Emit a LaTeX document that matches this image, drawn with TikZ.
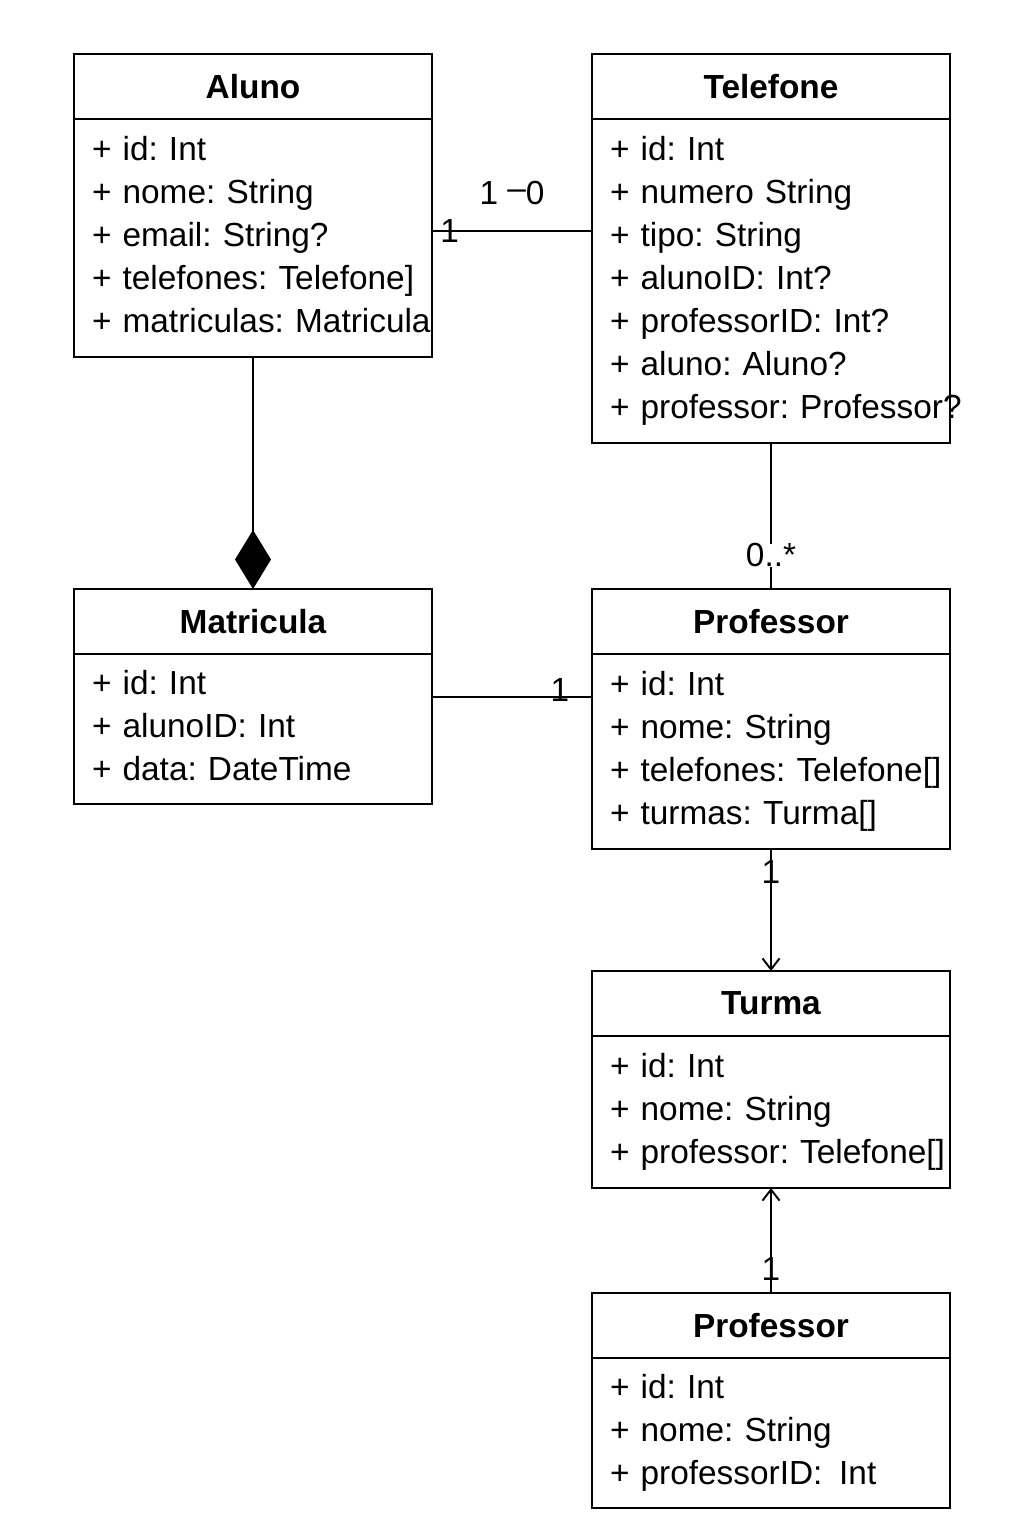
\documentclass[tikz,border=0pt]{standalone}
\usepackage{fontspec}
\setmainfont{Liberation Sans}
\usetikzlibrary{positioning, arrows.meta}
\newcommand{\umlfont}{\fontsize{19}{24.4}\selectfont}
\frenchspacing
\tikzset{
  every node/.style={text=black, font=\umlfont, outer sep=0pt},
  classname/.style={draw=black, minimum width=7.16cm, minimum height=1.3cm, inner sep=0pt, font=\umlfont\bfseries},
  classbody/.style={draw=black, minimum width=7.16cm, text width=6.44cm, inner xsep=0.36cm, inner ysep=0pt, align=left},
  mult/.style={draw=none, fill=none, inner sep=0pt}
}

\begin{document}
\begin{tikzpicture}[line width=1.1pt]
  \useasboundingbox (0,0) rectangle (20.48,-30.72);
  % Nodes
  \node (aluno) [classname] at (5.06,-1.73) {Aluno};
  \node (aluno-attr) [classbody, below=0pt of aluno, minimum height=4.76cm] {\begin{tabular}{@{}l@{}}
    + id: Int \\ + nome: String \\ + email: String? \\ + telefones: Telefone] \\ + matriculas: Matricula
  \end{tabular}};
  \node (telefone) [classname, right=3.2cm of aluno] {Telefone};
  \node (telefone-attr) [classbody, below=0pt of telefone, minimum height=6.48cm] {\begin{tabular}{@{}l@{}}
    + id: Int \\ + numero String \\ + tipo: String \\ + alunoID: Int? \\ + professorID: Int? \\ + aluno: Aluno? \\ + professor: Professor?
  \end{tabular}};
  \node (matricula) [classname, below=4.64cm of aluno-attr] {Matricula};
  \node (matricula-attr) [classbody, below=0pt of matricula, minimum height=3.0cm] {\begin{tabular}{@{}l@{}}
    + id: Int \\ + alunoID: Int \\ + data: DateTime
  \end{tabular}};
  \node (professor) [classname, right=3.2cm of matricula] {Professor};
  \node (professor-attr) [classbody, below=0pt of professor, minimum height=3.9cm] {\begin{tabular}{@{}l@{}}
    + id: Int \\ + nome: String \\ + telefones: Telefone[] \\ + turmas: Turma[]
  \end{tabular}};
  \node (turma) [classname, below=2.44cm of professor-attr] {Turma};
  \node (turma-attr) [classbody, below=0pt of turma, minimum height=3.04cm] {\begin{tabular}{@{}l@{}}
    + id: Int \\ + nome: String \\ + professor: Telefone[]
  \end{tabular}};
  \node (professor2) [classname, below=2.1cm of turma-attr] {Professor};
  \node (professor2-attr) [classbody, below=0pt of professor2, minimum height=3.0cm] {\begin{tabular}{@{}l@{}}
    + id: Int \\ + nome: String \\ + professorID:\enspace Int
  \end{tabular}};

  % Connectors
  \coordinate (aluno-tel) at ([yshift=-2.24cm]aluno-attr.north east);
  \coordinate (matr-prof) at ([yshift=-0.86cm]matricula-attr.north east);
  \draw (aluno-tel) -- node[mult, pos=0.11] {1} node[mult, pos=0.5, yshift=0.76cm] {1 \raisebox{0.15em}{–}0} (aluno-tel -| telefone-attr.west);
  \draw[-{Diamond[length=1.18cm, width=0.72cm]}] (aluno-attr) -- (matricula);
  \draw (telefone-attr) -- node[mult, pos=0.77, fill=white] {0..*} (professor);
  \draw (matr-prof) -- node[mult, pos=0.8, yshift=0.14cm] {1} (matr-prof -| professor-attr.west);
  \draw[-{Straight Barb[length=0.22cm, width=0.34cm]}] (professor-attr) -- node[mult, pos=0.19] {1} (turma);
  \draw[-{Straight Barb[length=0.22cm, width=0.34cm]}] (professor2) -- node[mult, pos=0.23] {1} (turma-attr);
\end{tikzpicture}
\end{document}
